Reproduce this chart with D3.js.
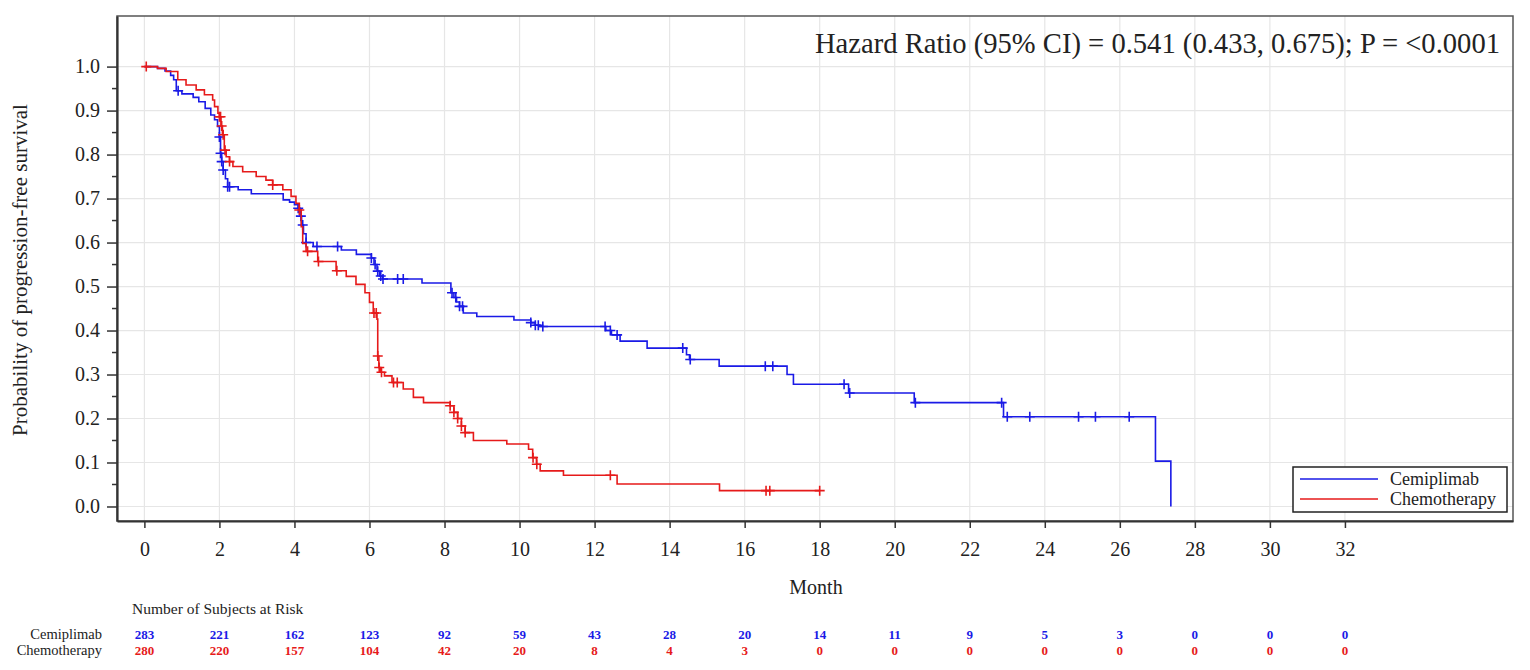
<!DOCTYPE html>
<html>
<head>
<meta charset="utf-8">
<script src="https://cdn.jsdelivr.net/npm/d3@7"></script>
<style>
  body { margin: 0; background: #fff; }
  text { font-family: "Liberation Serif", "Times New Roman", serif; fill: #222; }
</style>
</head>
<body>
<script>
const width = 1530;
const height = 670;

// Kaplan-Meier steps: [month, survival after the step]
const cemiplimabSteps = [
  [0, 1.0], [0.35, 0.996], [0.55, 0.99], [0.7, 0.98], [0.78, 0.97], [0.85, 0.945],
  [1.0, 0.938], [1.3, 0.93], [1.45, 0.92], [1.62, 0.905], [1.77, 0.89], [1.87, 0.879],
  [1.95, 0.864], [2.0, 0.84], [2.03, 0.803], [2.06, 0.784], [2.1, 0.765], [2.16, 0.745],
  [2.22, 0.727], [2.5, 0.72], [2.85, 0.711], [3.7, 0.697], [3.87, 0.692], [4.0, 0.686],
  [4.1, 0.678], [4.15, 0.66], [4.19, 0.64], [4.24, 0.62], [4.31, 0.6], [4.5, 0.591],
  [5.25, 0.583], [5.65, 0.573], [6.05, 0.565], [6.12, 0.55], [6.2, 0.535], [6.27, 0.524],
  [6.35, 0.517], [7.4, 0.508], [8.17, 0.486], [8.25, 0.475], [8.32, 0.465], [8.4, 0.455],
  [8.5, 0.44], [8.86, 0.432], [9.85, 0.424], [10.3, 0.418], [10.42, 0.412], [10.55, 0.409],
  [12.3, 0.4], [12.45, 0.39], [12.68, 0.376], [13.4, 0.36], [14.45, 0.345], [14.53, 0.334],
  [15.32, 0.319], [17.13, 0.3], [17.3, 0.278], [18.77, 0.258], [20.52, 0.236], [22.9, 0.204],
  [26.95, 0.103], [27.36, 0.0]
];
const chemoSteps = [
  [0, 1.0], [0.35, 0.996], [0.58, 0.989], [0.89, 0.97], [1.11, 0.958], [1.38, 0.947],
  [1.6, 0.936], [1.82, 0.924], [1.87, 0.909], [1.96, 0.894], [2.0, 0.886], [2.04, 0.865],
  [2.08, 0.845], [2.13, 0.81], [2.18, 0.795], [2.27, 0.784], [2.36, 0.773], [2.62, 0.761],
  [2.98, 0.75], [3.24, 0.742], [3.42, 0.731], [3.69, 0.72], [3.91, 0.705], [4.04, 0.689],
  [4.13, 0.674], [4.18, 0.636], [4.22, 0.598], [4.31, 0.58], [4.62, 0.557], [5.11, 0.536],
  [5.38, 0.523], [5.64, 0.505], [5.88, 0.486], [6.0, 0.464], [6.1, 0.44], [6.2, 0.426],
  [6.22, 0.342], [6.25, 0.316], [6.3, 0.305], [6.4, 0.297], [6.6, 0.282], [6.9, 0.267],
  [7.17, 0.248], [7.44, 0.236], [8.15, 0.229], [8.25, 0.214], [8.35, 0.2], [8.45, 0.183],
  [8.55, 0.168], [8.77, 0.15], [9.66, 0.142], [10.24, 0.13], [10.35, 0.111], [10.45, 0.096],
  [10.55, 0.081], [11.17, 0.071], [12.6, 0.051], [15.33, 0.036], [18.0, 0.036]
];

// censoring times (months)
const cemiplimabCensored = [0.9, 2.0, 2.03, 2.06, 2.1, 2.22, 2.27, 4.1, 4.17, 4.22, 4.31,
  4.6, 5.15, 6.05, 6.15, 6.22, 6.3, 6.36, 6.75, 6.9, 8.2, 8.3, 8.4, 8.48, 10.3, 10.42,
  10.5, 10.62, 12.28, 12.42, 12.6, 14.35, 14.55, 16.55, 16.75, 18.65, 18.8, 20.55, 22.85,
  23.0, 23.6, 24.9, 25.35, 26.25];
const chemoCensored = [0.05, 2.0, 2.03, 2.06, 2.1, 2.15, 2.27, 3.42, 4.13, 4.35, 4.64,
  5.13, 6.12, 6.18, 6.22, 6.26, 6.32, 6.64, 6.74, 8.15, 8.25, 8.35, 8.45, 8.55, 10.36,
  10.46, 12.42, 16.57, 16.67, 18.0];

const riskMonths = [0, 2, 4, 6, 8, 10, 12, 14, 16, 18, 20, 22, 24, 26, 28, 30, 32];
const cemiplimabAtRisk = [283, 221, 162, 123, 92, 59, 43, 28, 20, 14, 11, 9, 5, 3, 0, 0, 0];
const chemoAtRisk = [280, 220, 157, 104, 42, 20, 8, 4, 3, 0, 0, 0, 0, 0, 0, 0, 0];

const yTicks = [0, 0.1, 0.2, 0.3, 0.4, 0.5, 0.6, 0.7, 0.8, 0.9, 1.0];
const yMinorTicks = [0.05, 0.15, 0.25, 0.35, 0.45, 0.55, 0.65, 0.75, 0.85, 0.95];

const groups = ["Cemiplimab", "Chemotherapy"];
const colors = ["#1a1ae6", "#e61a1a"];

const plot = { left: 117, right: 1513, top: 16, bottom: 521 };

const x = d3.scaleLinear().domain([-0.73, 36.48]).range([plot.left, plot.right]);
const y = d3.scaleLinear().domain([-0.033, 1.115]).range([plot.bottom, plot.top]);

const svg = d3.select("body").append("svg")
    .attr("width", width)
    .attr("height", height);

svg.append("rect").attr("width", width).attr("height", height).attr("fill", "#fff");

// grid
svg.append("g").selectAll("line").data(riskMonths).join("line")
    .attr("x1", d => x(d)).attr("x2", d => x(d))
    .attr("y1", plot.top).attr("y2", plot.bottom)
    .attr("stroke", "#e6e6e6").attr("stroke-width", 1.2);
svg.append("g").selectAll("line").data(yTicks).join("line")
    .attr("x1", plot.left).attr("x2", plot.right)
    .attr("y1", d => y(d)).attr("y2", d => y(d))
    .attr("stroke", "#e6e6e6").attr("stroke-width", 1.2);

// frame
svg.append("rect")
    .attr("x", plot.left).attr("y", plot.top)
    .attr("width", plot.right - plot.left).attr("height", plot.bottom - plot.top)
    .attr("fill", "none").attr("stroke", "#555").attr("stroke-width", 1.5);

// axes
const xAxis = svg.append("g")
    .attr("transform", `translate(0,${plot.bottom})`)
    .call(d3.axisBottom(x).tickValues(riskMonths).tickSize(7).tickPadding(14).tickSizeOuter(0));
const yAxis = svg.append("g")
    .attr("transform", `translate(${plot.left},0)`)
    .call(d3.axisLeft(y).tickValues(yTicks).tickFormat(d3.format(".1f")).tickSize(10).tickPadding(7).tickSizeOuter(0));
yAxis.selectAll(".minor").data(yMinorTicks).join("line")
    .attr("class", "minor")
    .attr("x1", -5).attr("x2", 0)
    .attr("y1", d => y(d)).attr("y2", d => y(d))
    .attr("stroke", "#333").attr("stroke-width", 1.5);

[xAxis, yAxis].forEach(a => {
  a.select(".domain").attr("stroke", "#333").attr("stroke-width", 2.2);
  a.selectAll(".tick line").attr("stroke", "#333").attr("stroke-width", 1.5);
  a.selectAll(".tick text")
      .attr("font-family", '"Liberation Serif", serif')
      .attr("font-size", 20).attr("fill", "#333");
});

// curves
const line = d3.line()
    .x(d => x(d[0]))
    .y(d => y(d[1]))
    .curve(d3.curveStepAfter);

const survAt = (steps, t) => {
  let s = steps[0][1];
  for (const p of steps) { if (p[0] <= t) s = p[1]; }
  return s;
};

const plus = 5;
[[cemiplimabSteps, cemiplimabCensored], [chemoSteps, chemoCensored]].forEach(([steps, cens], i) => {
  svg.append("path")
      .datum(steps)
      .attr("d", line)
      .attr("fill", "none")
      .attr("stroke", colors[i])
      .attr("stroke-width", 1.6);
  svg.append("g").selectAll("path").data(cens).join("path")
      .attr("d", t => {
        const cx = x(t), cy = y(survAt(steps, t));
        return `M${cx - plus},${cy}H${cx + plus}M${cx},${cy - plus}V${cy + plus}`;
      })
      .attr("stroke", colors[i])
      .attr("stroke-width", 1.6);
});

// hazard ratio text
svg.append("text")
    .attr("x", 1500).attr("y", 53)
    .attr("text-anchor", "end")
    .attr("font-size", 28.6)
    .text("Hazard Ratio (95% CI) = 0.541 (0.433, 0.675); P = <0.0001");

// legend
const legend = svg.append("g");
legend.append("rect")
    .attr("x", 1293).attr("y", 467).attr("width", 214).attr("height", 45)
    .attr("fill", "#fff").attr("stroke", "#222").attr("stroke-width", 1.5);
groups.forEach((g, i) => {
  const ly = 479 + i * 20;
  legend.append("line")
      .attr("x1", 1300).attr("x2", 1378).attr("y1", ly).attr("y2", ly)
      .attr("stroke", colors[i]).attr("stroke-width", 1.6);
  legend.append("text")
      .attr("x", 1390).attr("y", ly).attr("dy", "0.35em")
      .attr("font-size", 18)
      .text(g);
});

// axis titles
svg.append("text")
    .attr("transform", "translate(27,270) rotate(-90)")
    .attr("text-anchor", "middle")
    .attr("font-size", 21)
    .text("Probability of progression-free survival");
svg.append("text")
    .attr("x", 816).attr("y", 594)
    .attr("text-anchor", "middle")
    .attr("font-size", 20)
    .text("Month");

// number at risk table
svg.append("text")
    .attr("x", 132).attr("y", 614)
    .attr("font-size", 15.5)
    .text("Number of Subjects at Risk");
[cemiplimabAtRisk, chemoAtRisk].forEach((counts, i) => {
  const ry = 634 + i * 16;
  svg.append("text")
      .attr("x", 102).attr("y", ry).attr("dy", "0.35em")
      .attr("text-anchor", "end")
      .attr("font-size", 14.5)
      .text(groups[i]);
  svg.append("g").selectAll("text").data(counts).join("text")
      .attr("x", (d, j) => x(riskMonths[j]))
      .attr("y", ry).attr("dy", "0.35em")
      .attr("text-anchor", "middle")
      .attr("font-size", 13)
      .attr("font-weight", "bold")
      .style("fill", colors[i])
      .text(d => d);
});
</script>
</body>
</html>
